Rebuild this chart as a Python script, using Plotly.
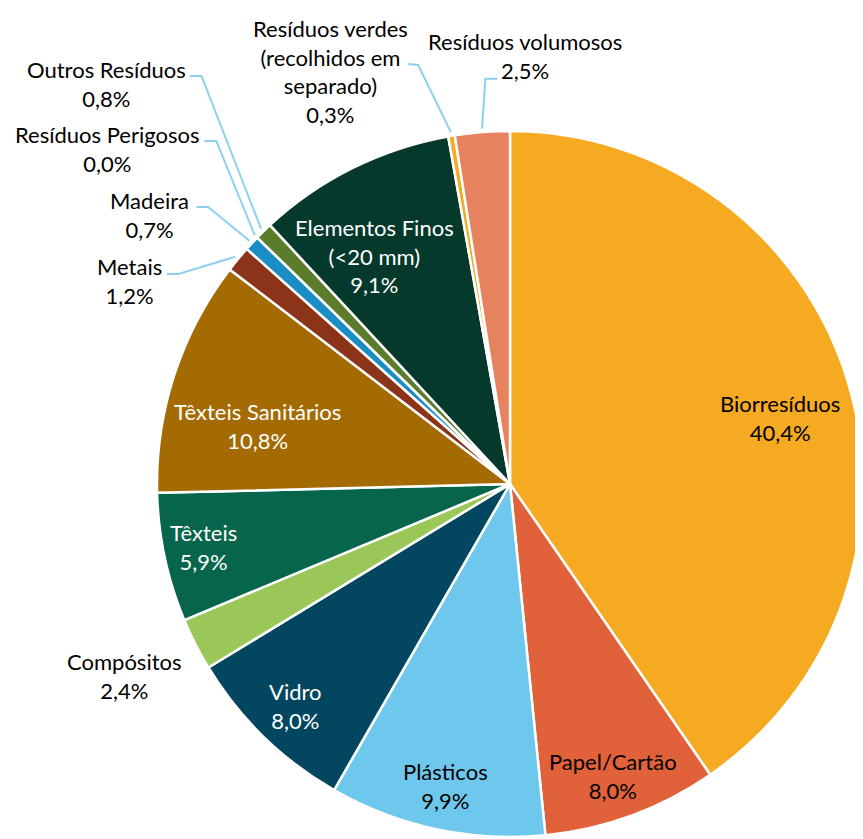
import numpy as np
import plotly.graph_objects as go

# ---------------- data ----------------
categories = [
    "Biorresíduos", "Papel/Cartão", "Plásticos", "Vidro", "Compósitos",
    "Têxteis", "Têxteis Sanitários", "Metais", "Madeira", "Resíduos Perigosos",
    "Outros Resíduos", "Elementos Finos (<20 mm)",
    "Resíduos verdes (recolhidos em separado)", "Resíduos volumosos",
]
display_names = [
    "Biorresíduos", "Papel/Cartão", "Plásticos", "Vidro", "Compósitos",
    "Têxteis", "Têxteis Sanitários", "Metais", "Madeira", "Resíduos Perigosos",
    "Outros Resíduos", "Elementos Finos<br>(&lt;20 mm)",
    "Resíduos verdes<br>(recolhidos em<br>separado)", "Resíduos volumosos",
]
values = [40.4, 8.0, 9.9, 8.0, 2.4, 5.9, 10.8, 1.2, 0.7, 0.0, 0.8, 9.1, 0.3, 2.5]

# ---------------- style ----------------
colors = [
    "#F6AA21", "#E0613A", "#6EC7EC", "#02475F", "#9BC758",
    "#06654A", "#A56B03", "#8C3419", "#1A8DC5", "#C0504D",
    "#5B7D2B", "#04392C", "#F6AA21", "#E6835E",
]
FONT = "Lato"
FSIZE = 22
LEADER = "#8ED0F0"

# page body has an 8px margin; keep the figure inside the 863x839 window
W, H = 855, 831
ML, MT = 149, 123
S = 706
R = S / 2
CX, CY = ML + R, MT + R


def px2paper(px, py):
    return (px - ML) / S, 1 - (py - MT) / S


def rel2px(rx, ry):
    return CX + rx * R, CY + ry * R


vals = np.array(values, dtype=float)
total = vals.sum()
cum = np.cumsum(vals)
start = cum - vals
mid_deg = (start + vals / 2) / total * 360.0


def polar_px(theta_deg, rfrac):
    t = np.radians(theta_deg)
    return CX + rfrac * R * np.sin(t), CY - rfrac * R * np.cos(t)


def pct(v):
    return f"{v:.1f}".replace(".", ",") + "%"


# inside / free labels: index -> (radius fraction, angle offset, color)
placed = {
    0: (0.788, 3.6, "black"),
    1: (0.877, 0.8, "black"),
    2: (0.874, 0.1, "black"),
    3: (0.874, -0.2, "white"),
    4: (1.22, 0.5, "black"),
    5: (0.887, 0.5, "white"),
    6: (0.734, -5.0, "white"),
    11: (0.751, -4.4, "white"),
}
# leader labels: index -> (text centre, line start, elbow) in units of R from centre
leader = {
    10: ((-1.142, -1.134), (-0.908, -1.156), (-0.874, -1.156)),
    9: ((-1.141, -0.950), (-0.866, -0.972), (-0.832, -0.972)),
    8: ((-1.020, -0.763), (-0.888, -0.785), (-0.855, -0.785)),
    7: ((-1.078, -0.575), (-0.972, -0.595), (-0.939, -0.595)),
    12: ((-0.508, -1.168), (-0.288, -1.190), (-0.260, -1.187)),
    13: ((0.042, -1.212), (-0.036, -1.148), (-0.070, -1.148)),
}

fig = go.Figure()
fig.add_trace(go.Pie(
    labels=categories,
    values=values,
    sort=False,
    direction="clockwise",
    rotation=0,
    marker=dict(colors=colors, line=dict(color="white", width=2.5)),
    textinfo="none",
    hoverinfo="label+percent",
    showlegend=False,
    domain=dict(x=[0, 1], y=[0, 1]),
))

annotations = []
shapes = []
for i, (rf, off, col) in placed.items():
    px, py = polar_px(mid_deg[i] + off, rf)
    xp, yp = px2paper(px, py)
    annotations.append(dict(
        x=xp, y=yp, xref="paper", yref="paper",
        text=f"{display_names[i]}<br>{pct(values[i])}",
        showarrow=False, align="center", xanchor="center", yanchor="middle",
        font=dict(family=FONT, size=FSIZE, color=col),
    ))

for i, (tc, ls, el) in leader.items():
    tx, ty = rel2px(*tc)
    xp, yp = px2paper(tx, ty)
    annotations.append(dict(
        x=xp, y=yp, xref="paper", yref="paper",
        text=f"{display_names[i]}<br>{pct(values[i])}",
        showarrow=False, align="center", xanchor="center", yanchor="middle",
        font=dict(family=FONT, size=FSIZE, color="black"),
    ))
    ex, ey = polar_px(mid_deg[i], 1.01)
    p0 = px2paper(*rel2px(*ls))
    p1 = px2paper(*rel2px(*el))
    p2 = px2paper(ex, ey)
    shapes.append(dict(
        type="path", xref="paper", yref="paper",
        path=f"M {p0[0]},{p0[1]} L {p1[0]},{p1[1]} L {p2[0]},{p2[1]}",
        line=dict(color=LEADER, width=2),
    ))

fig.update_layout(
    width=W, height=H,
    margin=dict(l=ML, r=W - ML - S, t=MT, b=H - MT - S),
    paper_bgcolor="white", plot_bgcolor="white",
    font=dict(family=FONT, size=FSIZE, color="black"),
    annotations=annotations,
    shapes=shapes,
    showlegend=False,
)

fig.write_html("out.html")
